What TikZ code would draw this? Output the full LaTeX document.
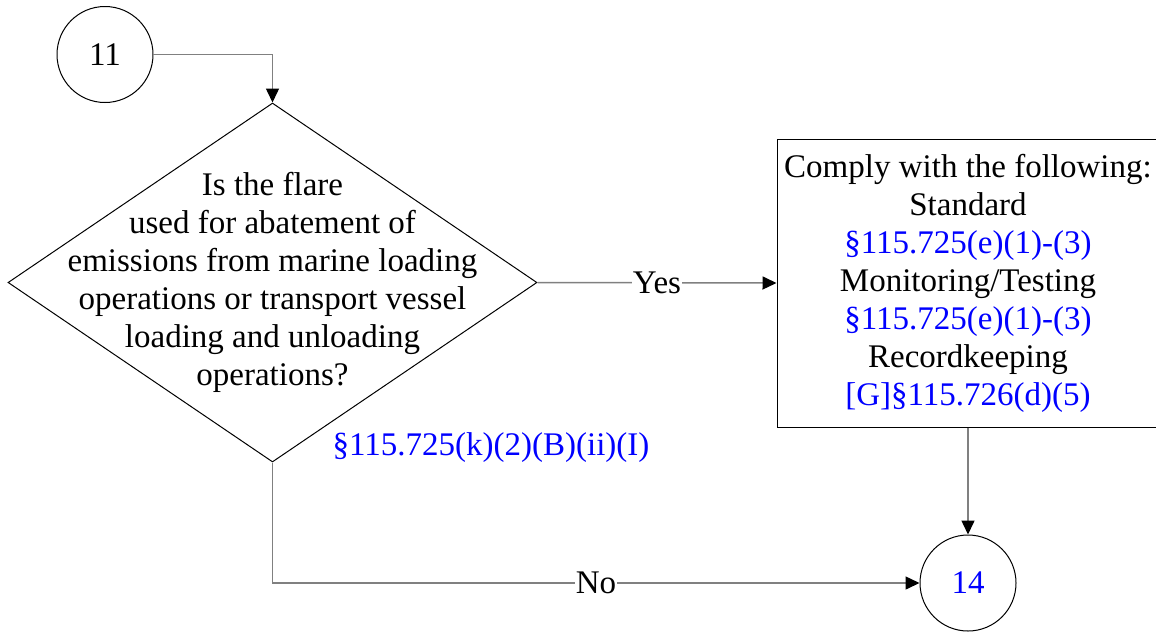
\documentclass[tikz,border=0pt]{standalone}
\usepackage{fontspec}
\setmainfont{Liberation Serif}
\usetikzlibrary{shapes.geometric,arrows.meta}
\definecolor{conngray}{RGB}{128,128,128}
\definecolor{refblue}{RGB}{0,0,255}
\begin{document}
\begin{tikzpicture}[x=1pt,y=-1pt,
  conn/.style={draw=conngray, line width=1.5pt, -{Triangle[length=14pt,width=13pt,color=black,fill=black]}},
  shp/.style={draw=black, line width=1pt},
  txt/.style={font=\fontsize{33}{38}\selectfont},
  reftxt/.style={txt, text=refblue},
  lbl/.style={txt, fill=white, inner sep=1pt}]
\useasboundingbox (0,0) rectangle (1156,633);
\node[shp, circle, minimum size=96pt, inner sep=0, txt] (c11) at (105,54.5) {11};
\node[shp, diamond, minimum width=529pt, minimum height=359pt, inner sep=0] (dia) at (272.5,282.5) {};
\node[txt, align=center] (q) at (dia.center) {Is the flare\\used for abatement of\\emissions from marine loading\\operations or transport vessel\\loading and unloading\\operations?};
\node[shp, rectangle, minimum width=382pt, minimum height=288pt, inner sep=0] (box) at (968,283) {};
\node[txt, align=center] (boxt) at (box.center) {Comply with the following:\\Standard\\\textcolor{refblue}{§115.725(e)(1)-(3)}\\Monitoring/Testing\\\textcolor{refblue}{§115.725(e)(1)-(3)}\\Recordkeeping\\\textcolor{refblue}{[G]§115.726(d)(5)}};
\node[shp, circle, minimum size=96pt, inner sep=0, reftxt] (c14) at (968,583) {14};
\node[reftxt] (ref) at (491,448) {§115.725(k)(2)(B)(ii)(I)};
\draw[conn] (c11.east) -| (dia.north);
\draw[conn] (dia.east) -- node[lbl] {Yes} (box.west);
\draw[conn] (box.south) -- (c14.north);
\draw[conn] (dia.south) |- node[lbl, pos=0.75] {No} (c14.west);
\end{tikzpicture}
\end{document}
